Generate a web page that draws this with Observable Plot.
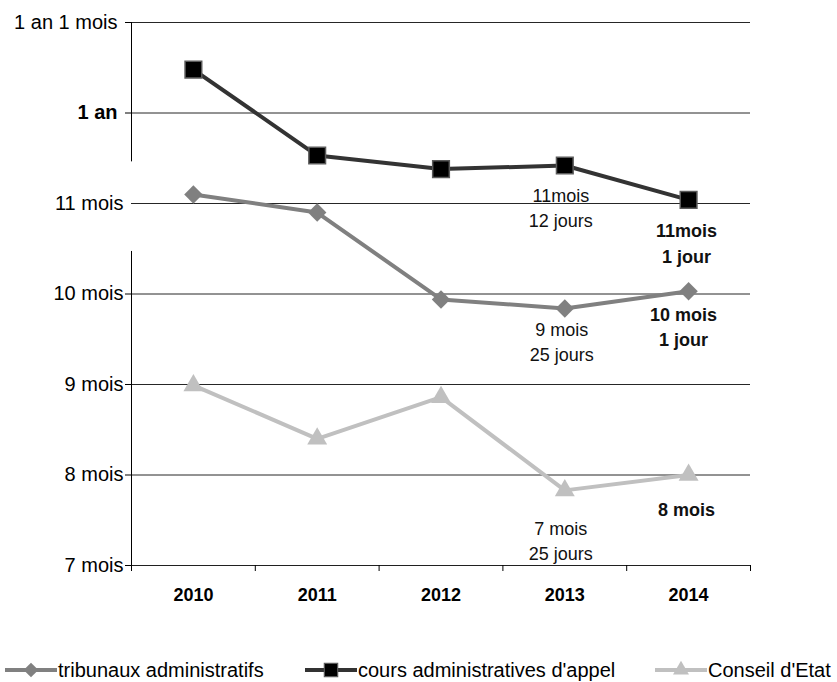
<!DOCTYPE html>
<html>
<head>
<meta charset="utf-8">
<script src="https://cdn.jsdelivr.net/npm/d3@7"></script>
<script src="https://cdn.jsdelivr.net/npm/@observablehq/plot@0.6"></script>
<style>
  body { margin: 0; background: #fff; font-family: "Liberation Sans", Arial, sans-serif; }
  #chart { position: relative; width: 837px; height: 682px; }
  .legend { position: absolute; top: 658px; left: 0; width: 837px; height: 24px; font-size: 20px; color: #000; }
  .item { position: absolute; top: 0; display: flex; align-items: center; height: 24px; white-space: nowrap; }
  .item svg { margin-right: 1px; }
</style>
</head>
<body>
<div id="chart"></div>
<script>
const years = [2010, 2011, 2012, 2013, 2014];
const tribunaux = [11.10, 10.90, 9.94, 9.84, 10.03];
const cours = [12.48, 11.53, 11.38, 11.42, 11.04];
const conseil = [8.99, 8.40, 8.86, 7.83, 8.00];

const seriesNames = ["tribunaux administratifs", "cours administratives d'appel", "Conseil d'Etat"];
const seriesValues = [tribunaux, cours, conseil];
const seriesColors = ["#808080", "#333333", "#c0c0c0"];
const markerFill = ["#808080", "#000000", "#c0c0c0"];
const markerStroke = ["none", "#5a5a5a", "none"];
const markerSymbol = ["diamond2", "square", "triangle"];
const markerR = [8.3, 9.4, 7.4];

const yTicks = [7, 8, 9, 10, 11, 12, 13];
const yLabels = ["7 mois", "8 mois", "9 mois", "10 mois", "11 mois", "1 an", "1 an 1 mois"];

const notes = [
  {s: 1, year: 2013, text: "11mois\n12 jours", bold: false, dy: 41, dx: -4},
  {s: 1, year: 2014, text: "11mois\n1 jour", bold: true, dy: 42, dx: -2},
  {s: 0, year: 2013, text: "9 mois\n25 jours", bold: false, dy: 32, dx: -3},
  {s: 0, year: 2014, text: "10 mois\n1 jour", bold: true, dy: 34, dx: -5},
  {s: 2, year: 2013, text: "7 mois\n25 jours", bold: false, dy: 49, dx: -4},
  {s: 2, year: 2014, text: "8 mois", bold: true, dy: 33, dx: -2}
];

const rows = [];
seriesValues.forEach((vals, si) => vals.forEach((v, i) => rows.push({s: si, year: years[i], value: v})));
const valueOf = (si, yr) => seriesValues[si][years.indexOf(yr)];

const boundaries = years.map(y => y - 0.5).concat([years[years.length - 1] + 0.5]);
const labelOf = v => yLabels[yTicks.indexOf(v)];

const marks = [
  Plot.ruleY(yTicks.slice(1), {stroke: "#262626", strokeWidth: 1}),
  Plot.ruleY([7], {stroke: "#202020", strokeWidth: 1}),
  Plot.ruleX([{a: 7, b: 10.47}, {a: 11.46, b: 13}], {x: () => boundaries[0], y1: "a", y2: "b", stroke: "#000", strokeWidth: 1}),
  Plot.axisY({ticks: yTicks.filter(v => v !== 11), tickSize: 6, tickFormat: () => "", stroke: "#000", label: null}),
  Plot.axisY({ticks: [7, 8, 9, 10, 11], tickSize: 0, tickPadding: 8, tickFormat: labelOf, fontSize: 20, fill: "#000", label: null}),
  Plot.axisY({ticks: [13], tickSize: 0, tickPadding: 14, tickFormat: labelOf, fontSize: 20, fill: "#000", label: null}),
  Plot.axisY({ticks: [12], tickSize: 0, tickPadding: 14, tickFormat: labelOf, fontSize: 20, fontWeight: "bold", fill: "#000", label: null}),
  Plot.axisX({ticks: boundaries, tickSize: 6, tickFormat: () => "", stroke: "#000", label: null}),
  Plot.axisX({ticks: years, tickSize: 0, tickPadding: 23, tickFormat: d => String(d), fontSize: 18, fontWeight: "bold", fill: "#000", label: null})
];

[2, 0, 1].forEach(si => {
  const data = rows.filter(r => r.s === si);
  marks.push(Plot.line(data, {x: "year", y: "value", stroke: seriesColors[si], strokeWidth: 4}));
  marks.push(Plot.dot(data, {x: "year", y: "value", symbol: () => markerSymbol[si], r: markerR[si], fill: markerFill[si], stroke: markerStroke[si], strokeWidth: 1.5}));
});

notes.forEach(n => {
  marks.push(Plot.text([n], {
    x: "year", y: d => valueOf(d.s, d.year), text: "text",
    dy: n.dy, dx: n.dx, lineAnchor: "middle", lineHeight: 1.42,
    fontSize: 18, fontWeight: n.bold ? "bold" : "normal", fill: "#111"
  }));
});

const chart = Plot.plot({
  width: 837,
  height: 615,
  marginLeft: 131,
  marginRight: 87,
  marginTop: 22,
  marginBottom: 50,
  style: {fontFamily: "'Liberation Sans', Arial, sans-serif", background: "#fff", overflow: "visible"},
  x: {domain: [boundaries[0], boundaries[boundaries.length - 1]], axis: null, label: null},
  y: {domain: [7, 13], axis: null, label: null},
  symbol: {type: "identity"},
  marks
});

const root = document.getElementById("chart");
root.appendChild(chart);

const legend = document.createElement("div");
legend.className = "legend";
const lefts = [5, 305, 655];
seriesNames.forEach((name, si) => {
  const item = document.createElement("div");
  item.className = "item";
  item.style.left = lefts[si] + "px";
  const svg = d3.create("svg").attr("width", 52).attr("height", 24);
  svg.append("line").attr("x1", 0).attr("x2", 52).attr("y1", 12).attr("y2", 12)
    .attr("stroke", seriesColors[si]).attr("stroke-width", 4);
  const sym = {diamond2: d3.symbolDiamond2, square: d3.symbolSquare, triangle: d3.symbolTriangle}[markerSymbol[si]];
  const size = Math.PI * (markerR[si] * 0.8) ** 2;
  svg.append("path").attr("d", d3.symbol(sym, size)()).attr("transform", "translate(26,12)")
    .attr("fill", markerFill[si]).attr("stroke", markerStroke[si]).attr("stroke-width", 1.2);
  item.appendChild(svg.node());
  const span = document.createElement("span");
  span.textContent = name;
  item.appendChild(span);
  legend.appendChild(item);
});
root.appendChild(legend);
</script>
</body>
</html>
